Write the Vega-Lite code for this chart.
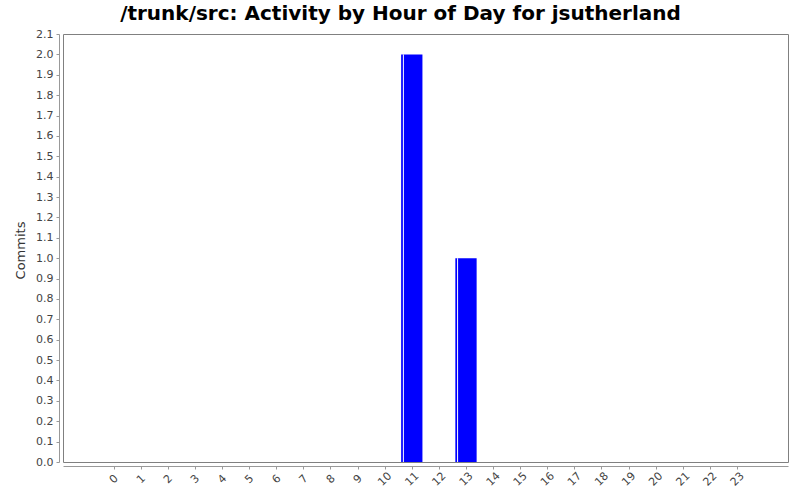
{
  "$schema": "https://vega.github.io/schema/vega-lite/v6.json",
  "width": 725,
  "height": 428,
  "autosize": {"type": "none"},
  "padding": {"left": 63, "top": 34, "right": 12, "bottom": 38},
  "background": "white",
  "title": {
    "text": "/trunk/src: Activity by Hour of Day for jsutherland",
    "font": "DejaVu Sans",
    "fontSize": 20,
    "fontWeight": "bold",
    "color": "#000000",
    "anchor": "middle",
    "baseline": "alphabetic",
    "offset": 14,
    "dx": -25,
    "dy": 26
  },
  "config": {
    "view": {"stroke": "#808080", "strokeWidth": 1},
    "axis": {
      "labelFont": "DejaVu Sans",
      "labelFontSize": 11,
      "labelColor": "#444444",
      "titleFont": "DejaVu Sans",
      "titleFontSize": 13,
      "titleFontWeight": "normal",
      "titleColor": "#333333",
      "domainColor": "#999999",
      "tickColor": "#999999",
      "tickSize": 3,
      "grid": false,
      "offset": 4,
      "labelOverlap": false,
      "labelFlush": false,
      "labelBound": false
    }
  },
  "data": {
    "values": [
      {"hour": 0, "commits": 0}, {"hour": 1, "commits": 0}, {"hour": 2, "commits": 0},
      {"hour": 3, "commits": 0}, {"hour": 4, "commits": 0}, {"hour": 5, "commits": 0},
      {"hour": 6, "commits": 0}, {"hour": 7, "commits": 0}, {"hour": 8, "commits": 0},
      {"hour": 9, "commits": 0}, {"hour": 10, "commits": 0}, {"hour": 11, "commits": 2},
      {"hour": 12, "commits": 0}, {"hour": 13, "commits": 1}, {"hour": 14, "commits": 0},
      {"hour": 15, "commits": 0}, {"hour": 16, "commits": 0}, {"hour": 17, "commits": 0},
      {"hour": 18, "commits": 0}, {"hour": 19, "commits": 0}, {"hour": 20, "commits": 0},
      {"hour": 21, "commits": 0}, {"hour": 22, "commits": 0}, {"hour": 23, "commits": 0}
    ]
  },
  "encoding": {
    "x": {
      "field": "hour",
      "type": "quantitative",
      "scale": {"domain": [-1.685, 24.697], "nice": false, "zero": false},
      "axis": {
        "title": null,
        "values": [0, 1, 2, 3, 4, 5, 6, 7, 8, 9, 10, 11, 12, 13, 14, 15, 16, 17, 18, 19, 20, 21, 22, 23],
        "format": "d",
        "labelAngle": -45,
        "labelAlign": "center",
        "labelBaseline": "middle",
        "labelPadding": 10
      }
    },
    "y": {
      "field": "commits",
      "type": "quantitative",
      "scale": {"domain": [0, 2.1], "nice": false},
      "axis": {
        "title": "Commits",
        "values": [0, 0.1, 0.2, 0.3, 0.4, 0.5, 0.6, 0.7, 0.8, 0.9, 1.0, 1.1, 1.2, 1.3, 1.4, 1.5, 1.6, 1.7, 1.8, 1.9, 2.0, 2.1],
        "format": ".1f",
        "labelPadding": 3,
        "titleX": -39,
        "titleY": 216,
        "titleAngle": -90,
        "titleBaseline": "middle",
        "titleAlign": "center"
      }
    }
  },
  "layer": [
    {
      "transform": [{"filter": "datum.commits > 0"}],
      "mark": {"type": "bar", "color": "#0000FF", "width": 21.3}
    },
    {
      "transform": [{"filter": "datum.commits > 0"}],
      "mark": {"type": "rule", "color": "#FFFFFF", "strokeWidth": 1, "xOffset": -8.4},
      "encoding": {
        "y2": {"datum": 0}
      }
    }
  ]
}
